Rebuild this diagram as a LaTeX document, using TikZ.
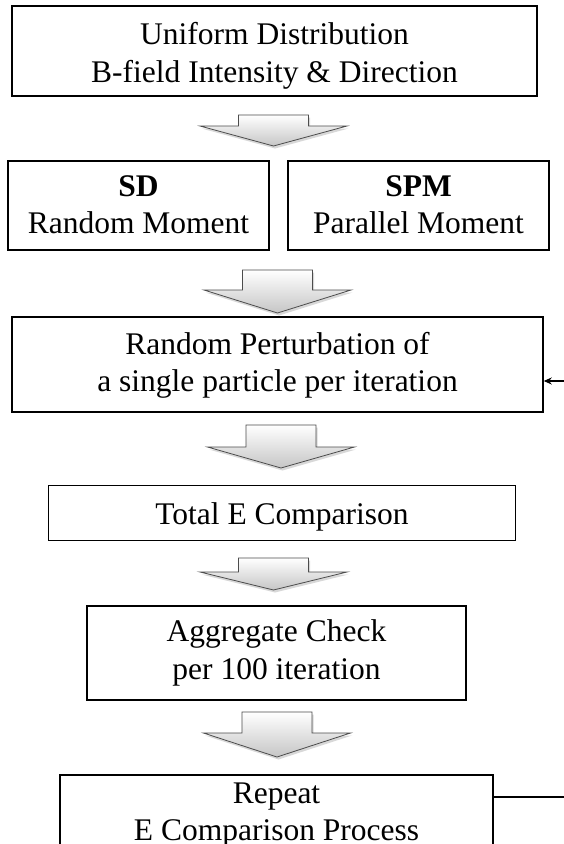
\documentclass[tikz,border=0pt]{standalone}
\usepackage{fontspec}
\setmainfont{Liberation Serif}
\usetikzlibrary{arrows.meta,shadows}
\tikzset{
  box/.style={draw=black, line width=1.5pt, fill=white, inner sep=0pt,
    font=\fontsize{31.5}{37.5}\selectfont},
  barrowstyle/.style={draw=black!70, line width=0.8pt, top color=white, bottom color=gray!45,
    drop shadow={opacity=0.3, shadow xshift=1.5pt, shadow yshift=-2.5pt}},
  link/.style={draw=black, line width=2pt},
}
\newcommand\tx[2]{\raisebox{-#1pt}[\height][\depth]{\begin{tabular}{@{}c@{}}#2\end{tabular}}}
\newcommand\blockarrow[4]{% center x, top y, wing y, tip y
  \path[barrowstyle] ({#1-35},#2) -- ({#1-35},#3) -- ({#1-73.5},#3) -- (#1,#4)
    -- ({#1+73.5},#3) -- ({#1+35},#3) -- ({#1+35},#2) -- cycle;}
\begin{document}
\begin{tikzpicture}[x=1pt,y=-1pt]
\useasboundingbox (0,0) rectangle (564,844);
\clip (0,0) rectangle (564,844);
\fill[white] (0,0) rectangle (564,844);

\node[box, minimum width=525pt, minimum height=90pt] (uni) at (274.5,51)
  {\tx{5}{Uniform Distribution\\B-field Intensity \& Direction}};
\blockarrow{273.5}{115}{126}{146}

\node[box, minimum width=261pt, minimum height=89pt] (sd) at (138.5,205.5)
  {\tx{2}{\textbf{SD}\\Random Moment}};
\node[box, minimum width=261pt, minimum height=89pt] (spm) at (418.5,205.5)
  {\tx{2}{\textbf{SPM}\\Parallel Moment}};
\blockarrow{277.5}{270}{290}{313}

\node[box, minimum width=531pt, minimum height=95pt] (rp) at (277.5,364.5)
  {\tx{1}{Random Perturbation of\\a single particle per iteration}};
\blockarrow{281}{425}{447}{468}

\node[box, minimum width=467pt, minimum height=55pt] (te) at (282,513)
  {\tx{4}{Total E Comparison}};
\blockarrow{273.5}{558}{572}{590}

\node[box, minimum width=379pt, minimum height=94pt] (ag) at (276.5,653)
  {\tx{0}{Aggregate Check\\per 100 iteration}};
\blockarrow{277}{712}{733}{757}

\node[box, minimum width=433pt, minimum height=87pt] (rep) at (276.5,818.5)
  {\tx{-4}{Repeat\\E Comparison Process}};

\coordinate (fb1) at (564,381);
\coordinate (fb2) at (564,797);
\draw[link, -{Stealth[length=8pt,width=7pt]}] (fb1) -- (fb1 -| rp.east);
\draw[link, line width=2.5pt] (fb2 -| rep.east) -- (fb2);
\end{tikzpicture}
\end{document}
